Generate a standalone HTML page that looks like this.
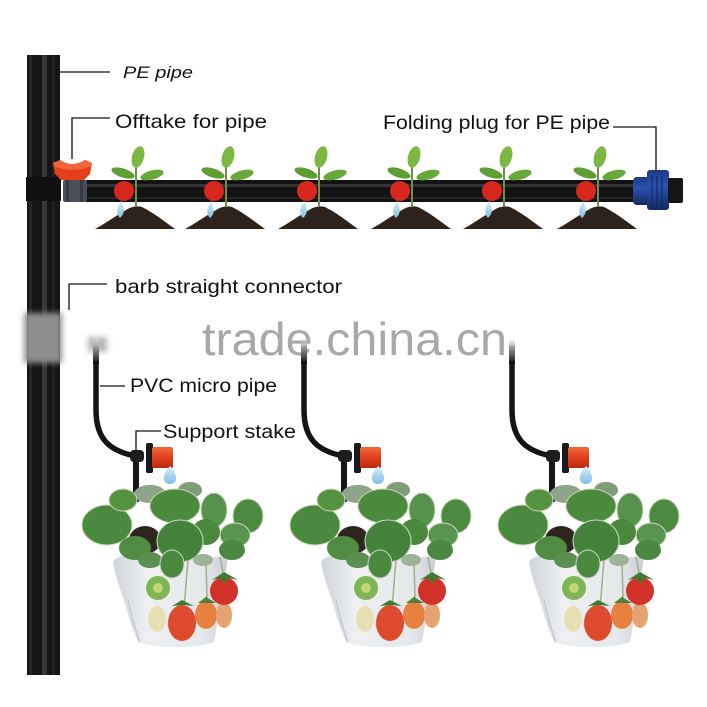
<!DOCTYPE html>
<html><head><meta charset="utf-8"><style>
html,body{margin:0;padding:0;background:#fff;}
svg{display:block;}
text{font-family:"Liberation Sans",sans-serif;}
</style></head><body>
<svg width="707" height="707" viewBox="0 0 707 707" xmlns="http://www.w3.org/2000/svg">
<defs>
<filter id="blur" x="-50%" y="-50%" width="200%" height="200%"><feGaussianBlur stdDeviation="3"/></filter>
<linearGradient id="fade" x1="0" y1="0" x2="0" y2="1"><stop offset="0" stop-color="#fff" stop-opacity="0"/><stop offset="0.4" stop-color="#999"/><stop offset="1" stop-color="#111"/></linearGradient>
<linearGradient id="redg" x1="0" y1="0" x2="0" y2="1"><stop offset="0" stop-color="#f06a3a"/><stop offset="0.5" stop-color="#e2401c"/><stop offset="1" stop-color="#b82a12"/></linearGradient>
<linearGradient id="blueg" x1="0" y1="0" x2="0" y2="1"><stop offset="0" stop-color="#1c3a86"/><stop offset="0.4" stop-color="#2a52b0"/><stop offset="1" stop-color="#132a63"/></linearGradient>
<linearGradient id="potg" x1="0" y1="0" x2="1" y2="0"><stop offset="0" stop-color="#cfd4d9"/><stop offset="0.3" stop-color="#eef0f2"/><stop offset="0.8" stop-color="#e4e7ea"/><stop offset="1" stop-color="#c9ced3"/></linearGradient>
<linearGradient id="dropg" x1="0" y1="0" x2="0" y2="1"><stop offset="0" stop-color="#d8eef9"/><stop offset="1" stop-color="#7fc0e4"/></linearGradient>
</defs>

<!-- vertical PE pipe -->
<rect x="27" y="55" width="33" height="620" fill="#151515"/>
<rect x="29" y="55" width="3" height="620" fill="#262626"/>
<rect x="42" y="55" width="5" height="620" fill="#383838"/>
<rect x="52" y="55" width="3" height="620" fill="#222"/>
<rect x="26" y="177" width="35" height="24" fill="#101010"/>
<rect x="24" y="313" width="38" height="50" fill="#8f8f8f" filter="url(#blur)"/>
<rect x="88" y="337" width="19" height="15" fill="#b5b5b5" filter="url(#blur)"/>

<!-- horizontal pipe -->
<rect x="86" y="180" width="550" height="22" fill="#131313"/>
<rect x="86" y="184" width="550" height="3" fill="#333"/>
<rect x="86" y="197" width="550" height="2" fill="#252525"/>
<!-- valve -->
<rect x="63" y="180" width="24" height="22" rx="2" fill="#4a4e57"/>
<rect x="66" y="180" width="3" height="22" fill="#363a42"/>
<rect x="80" y="180" width="3" height="22" fill="#363a42"/>
<path d="M53,163 L60,160 Q72,168 85,160 L92,163 L90,174 L84,180 L61,180 L55,174 Z" fill="#e5401c"/>
<path d="M53,163 L60,160 Q72,168 85,160 L92,163 L91,166 Q72,174 54,166 Z" fill="#f2653a"/>
<!-- blue plug -->
<rect x="633" y="177" width="18" height="28" rx="4" fill="url(#blueg)"/>
<rect x="647" y="170" width="22" height="40" rx="3" fill="url(#blueg)"/>
<line x1="652" y1="176" x2="652" y2="206" stroke="#10245a" stroke-width="1"/>
<line x1="657" y1="176" x2="657" y2="206" stroke="#10245a" stroke-width="1"/>
<line x1="662" y1="176" x2="662" y2="206" stroke="#10245a" stroke-width="1"/>
<rect x="668" y="178" width="15" height="25" rx="2" fill="#151515"/>

<!-- plants on the pipe -->
<g transform="translate(124,0)">
<path d="M-29,229 L-22,225 Q-8,216 2,210 Q10,205 18,207 Q28,212 40,221 L51,229 Z" fill="#2e231c"/>
<line x1="12" y1="207" x2="12" y2="152" stroke="#6f8f4a" stroke-width="2"/>
<ellipse cx="14" cy="157" rx="6" ry="11" transform="rotate(15 14 157)" fill="#7cb842"/>
<ellipse cx="-1" cy="173" rx="12" ry="4.5" transform="rotate(18 -1 173)" fill="#5e9e35"/>
<ellipse cx="28" cy="175" rx="12" ry="4.5" transform="rotate(-15 28 175)" fill="#68a83a"/>
<circle cx="0" cy="191" r="10" fill="#d8271c"/>
<path d="M-3,201 Q-10,212 -4,218 Q3,212 -3,201 Z" fill="url(#dropg)"/>
</g>
<g transform="translate(214,0)">
<path d="M-29,229 L-22,225 Q-8,216 2,210 Q10,205 18,207 Q28,212 40,221 L51,229 Z" fill="#2e231c"/>
<line x1="12" y1="207" x2="12" y2="152" stroke="#6f8f4a" stroke-width="2"/>
<ellipse cx="14" cy="157" rx="6" ry="11" transform="rotate(15 14 157)" fill="#7cb842"/>
<ellipse cx="-1" cy="173" rx="12" ry="4.5" transform="rotate(18 -1 173)" fill="#5e9e35"/>
<ellipse cx="28" cy="175" rx="12" ry="4.5" transform="rotate(-15 28 175)" fill="#68a83a"/>
<circle cx="0" cy="191" r="10" fill="#d8271c"/>
<path d="M-3,201 Q-10,212 -4,218 Q3,212 -3,201 Z" fill="url(#dropg)"/>
</g>
<g transform="translate(307,0)">
<path d="M-29,229 L-22,225 Q-8,216 2,210 Q10,205 18,207 Q28,212 40,221 L51,229 Z" fill="#2e231c"/>
<line x1="12" y1="207" x2="12" y2="152" stroke="#6f8f4a" stroke-width="2"/>
<ellipse cx="14" cy="157" rx="6" ry="11" transform="rotate(15 14 157)" fill="#7cb842"/>
<ellipse cx="-1" cy="173" rx="12" ry="4.5" transform="rotate(18 -1 173)" fill="#5e9e35"/>
<ellipse cx="28" cy="175" rx="12" ry="4.5" transform="rotate(-15 28 175)" fill="#68a83a"/>
<circle cx="0" cy="191" r="10" fill="#d8271c"/>
<path d="M-3,201 Q-10,212 -4,218 Q3,212 -3,201 Z" fill="url(#dropg)"/>
</g>
<g transform="translate(400,0)">
<path d="M-29,229 L-22,225 Q-8,216 2,210 Q10,205 18,207 Q28,212 40,221 L51,229 Z" fill="#2e231c"/>
<line x1="12" y1="207" x2="12" y2="152" stroke="#6f8f4a" stroke-width="2"/>
<ellipse cx="14" cy="157" rx="6" ry="11" transform="rotate(15 14 157)" fill="#7cb842"/>
<ellipse cx="-1" cy="173" rx="12" ry="4.5" transform="rotate(18 -1 173)" fill="#5e9e35"/>
<ellipse cx="28" cy="175" rx="12" ry="4.5" transform="rotate(-15 28 175)" fill="#68a83a"/>
<circle cx="0" cy="191" r="10" fill="#d8271c"/>
<path d="M-3,201 Q-10,212 -4,218 Q3,212 -3,201 Z" fill="url(#dropg)"/>
</g>
<g transform="translate(492,0)">
<path d="M-29,229 L-22,225 Q-8,216 2,210 Q10,205 18,207 Q28,212 40,221 L51,229 Z" fill="#2e231c"/>
<line x1="12" y1="207" x2="12" y2="152" stroke="#6f8f4a" stroke-width="2"/>
<ellipse cx="14" cy="157" rx="6" ry="11" transform="rotate(15 14 157)" fill="#7cb842"/>
<ellipse cx="-1" cy="173" rx="12" ry="4.5" transform="rotate(18 -1 173)" fill="#5e9e35"/>
<ellipse cx="28" cy="175" rx="12" ry="4.5" transform="rotate(-15 28 175)" fill="#68a83a"/>
<circle cx="0" cy="191" r="10" fill="#d8271c"/>
<path d="M-3,201 Q-10,212 -4,218 Q3,212 -3,201 Z" fill="url(#dropg)"/>
</g>
<g transform="translate(586,0)">
<path d="M-29,229 L-22,225 Q-8,216 2,210 Q10,205 18,207 Q28,212 40,221 L51,229 Z" fill="#2e231c"/>
<line x1="12" y1="207" x2="12" y2="152" stroke="#6f8f4a" stroke-width="2"/>
<ellipse cx="14" cy="157" rx="6" ry="11" transform="rotate(15 14 157)" fill="#7cb842"/>
<ellipse cx="-1" cy="173" rx="12" ry="4.5" transform="rotate(18 -1 173)" fill="#5e9e35"/>
<ellipse cx="28" cy="175" rx="12" ry="4.5" transform="rotate(-15 28 175)" fill="#68a83a"/>
<circle cx="0" cy="191" r="10" fill="#d8271c"/>
<path d="M-3,201 Q-10,212 -4,218 Q3,212 -3,201 Z" fill="url(#dropg)"/>
</g>

<!-- watermark -->
<text x="202" y="355" font-size="46" fill="#a8a8a8" textLength="305" lengthAdjust="spacingAndGlyphs">trade.china.cn</text>

<!-- hanging pots -->
<g transform="translate(0,0)">
<rect x="93" y="336" width="6" height="28" fill="url(#fade)"/>
<path d="M96,363 L96,410 C96,440 110,452 140,457" stroke="#141414" stroke-width="5.5" fill="none" stroke-linecap="round"/>
<rect x="133" y="450" width="6" height="52" fill="#161616"/>
<rect x="130" y="450" width="14" height="12" rx="4" fill="#1c1c1c"/>
<rect x="146" y="443" width="7" height="30" rx="2" fill="#1a1a1a"/>
<rect x="152" y="447" width="21" height="21" rx="2" fill="url(#redg)"/>
<path d="M170,466 Q161,476 165,482 Q170,486 175,482 Q179,476 170,466 Z" fill="url(#dropg)"/>
<path d="M113,562 Q116,556 128,555 L228,557 Q226,570 223,590 L214,642 Q200,647 176,647 Q150,647 138,642 Q130,625 124,600 Q116,580 113,562 Z" fill="url(#potg)"/>
<path d="M128,600 Q133,625 140,642" stroke="#c4c9ce" stroke-width="1.5" fill="none"/>
<ellipse cx="150" cy="494" rx="16" ry="9" fill="#8fa489"/>
<ellipse cx="190" cy="490" rx="12" ry="8" fill="#7f9c74"/>
<ellipse cx="145" cy="540" rx="16" ry="14" fill="#2f2620"/>
<ellipse cx="107" cy="525" rx="25" ry="20" fill="#4a8a3e" stroke="#c9d8bd" stroke-width="1"/>
<ellipse cx="123" cy="500" rx="14" ry="11" fill="#55923f" stroke="#c9d8bd" stroke-width="1"/>
<ellipse cx="135" cy="548" rx="16" ry="12" fill="#4f8c42"/>
<ellipse cx="175" cy="506" rx="25" ry="17" fill="#4b893c" stroke="#c9d8bd" stroke-width="1"/>
<ellipse cx="214" cy="510" rx="13" ry="17" fill="#57934a" stroke="#c9d8bd" stroke-width="1"/>
<ellipse cx="248" cy="516" rx="15" ry="17" fill="#4c8a40" stroke="#c9d8bd" stroke-width="1"/>
<ellipse cx="206" cy="532" rx="14" ry="13" fill="#4a883e"/>
<ellipse cx="180" cy="541" rx="23" ry="21" fill="#458239" stroke="#c9d8bd" stroke-width="1"/>
<ellipse cx="235" cy="535" rx="15" ry="12" fill="#5a954e" stroke="#c9d8bd" stroke-width="1"/>
<ellipse cx="232" cy="550" rx="13" ry="10" fill="#4a8842"/>
<ellipse cx="150" cy="560" rx="12" ry="8" fill="#5a8f50"/>
<ellipse cx="203" cy="560" rx="10" ry="6" fill="#9fb299"/>
<ellipse cx="172" cy="564" rx="12" ry="14" fill="#4a8840" stroke="#c9d8bd" stroke-width="1"/>
<path d="M188,560 L184,608 M206,560 L207,600 M220,557 L224,578" stroke="#9fb28a" stroke-width="1.5" fill="none"/>
<circle cx="158" cy="588" r="12" fill="#7fb555"/>
<circle cx="158" cy="588" r="5" fill="#c3d67a"/>
<ellipse cx="157" cy="619" rx="9" ry="13" fill="#e6e0b4"/>
<ellipse cx="182" cy="623" rx="14" ry="18" fill="#dd4a2e"/>
<ellipse cx="206" cy="615" rx="11" ry="14" fill="#e8813f"/>
<ellipse cx="224" cy="615" rx="8" ry="13" fill="#e6a474"/>
<ellipse cx="224" cy="591" rx="14" ry="14" fill="#d2322a"/>
<path d="M212,580 L224,572 L238,580 L228,578 L224,584 L220,578 Z" fill="#3f7a35"/>
<path d="M172,606 L182,600 L194,606 L184,605 Z" fill="#3f7a35"/>
<path d="M198,603 L206,597 L216,603 Z" fill="#4a8238"/>
</g>

<g transform="translate(208,0)">
<rect x="93" y="336" width="6" height="28" fill="url(#fade)"/>
<path d="M96,363 L96,410 C96,440 110,452 140,457" stroke="#141414" stroke-width="5.5" fill="none" stroke-linecap="round"/>
<rect x="133" y="450" width="6" height="52" fill="#161616"/>
<rect x="130" y="450" width="14" height="12" rx="4" fill="#1c1c1c"/>
<rect x="146" y="443" width="7" height="30" rx="2" fill="#1a1a1a"/>
<rect x="152" y="447" width="21" height="21" rx="2" fill="url(#redg)"/>
<path d="M170,466 Q161,476 165,482 Q170,486 175,482 Q179,476 170,466 Z" fill="url(#dropg)"/>
<path d="M113,562 Q116,556 128,555 L228,557 Q226,570 223,590 L214,642 Q200,647 176,647 Q150,647 138,642 Q130,625 124,600 Q116,580 113,562 Z" fill="url(#potg)"/>
<path d="M128,600 Q133,625 140,642" stroke="#c4c9ce" stroke-width="1.5" fill="none"/>
<ellipse cx="150" cy="494" rx="16" ry="9" fill="#8fa489"/>
<ellipse cx="190" cy="490" rx="12" ry="8" fill="#7f9c74"/>
<ellipse cx="145" cy="540" rx="16" ry="14" fill="#2f2620"/>
<ellipse cx="107" cy="525" rx="25" ry="20" fill="#4a8a3e" stroke="#c9d8bd" stroke-width="1"/>
<ellipse cx="123" cy="500" rx="14" ry="11" fill="#55923f" stroke="#c9d8bd" stroke-width="1"/>
<ellipse cx="135" cy="548" rx="16" ry="12" fill="#4f8c42"/>
<ellipse cx="175" cy="506" rx="25" ry="17" fill="#4b893c" stroke="#c9d8bd" stroke-width="1"/>
<ellipse cx="214" cy="510" rx="13" ry="17" fill="#57934a" stroke="#c9d8bd" stroke-width="1"/>
<ellipse cx="248" cy="516" rx="15" ry="17" fill="#4c8a40" stroke="#c9d8bd" stroke-width="1"/>
<ellipse cx="206" cy="532" rx="14" ry="13" fill="#4a883e"/>
<ellipse cx="180" cy="541" rx="23" ry="21" fill="#458239" stroke="#c9d8bd" stroke-width="1"/>
<ellipse cx="235" cy="535" rx="15" ry="12" fill="#5a954e" stroke="#c9d8bd" stroke-width="1"/>
<ellipse cx="232" cy="550" rx="13" ry="10" fill="#4a8842"/>
<ellipse cx="150" cy="560" rx="12" ry="8" fill="#5a8f50"/>
<ellipse cx="203" cy="560" rx="10" ry="6" fill="#9fb299"/>
<ellipse cx="172" cy="564" rx="12" ry="14" fill="#4a8840" stroke="#c9d8bd" stroke-width="1"/>
<path d="M188,560 L184,608 M206,560 L207,600 M220,557 L224,578" stroke="#9fb28a" stroke-width="1.5" fill="none"/>
<circle cx="158" cy="588" r="12" fill="#7fb555"/>
<circle cx="158" cy="588" r="5" fill="#c3d67a"/>
<ellipse cx="157" cy="619" rx="9" ry="13" fill="#e6e0b4"/>
<ellipse cx="182" cy="623" rx="14" ry="18" fill="#dd4a2e"/>
<ellipse cx="206" cy="615" rx="11" ry="14" fill="#e8813f"/>
<ellipse cx="224" cy="615" rx="8" ry="13" fill="#e6a474"/>
<ellipse cx="224" cy="591" rx="14" ry="14" fill="#d2322a"/>
<path d="M212,580 L224,572 L238,580 L228,578 L224,584 L220,578 Z" fill="#3f7a35"/>
<path d="M172,606 L182,600 L194,606 L184,605 Z" fill="#3f7a35"/>
<path d="M198,603 L206,597 L216,603 Z" fill="#4a8238"/>
</g>

<g transform="translate(416,0)">
<rect x="93" y="336" width="6" height="28" fill="url(#fade)"/>
<path d="M96,363 L96,410 C96,440 110,452 140,457" stroke="#141414" stroke-width="5.5" fill="none" stroke-linecap="round"/>
<rect x="133" y="450" width="6" height="52" fill="#161616"/>
<rect x="130" y="450" width="14" height="12" rx="4" fill="#1c1c1c"/>
<rect x="146" y="443" width="7" height="30" rx="2" fill="#1a1a1a"/>
<rect x="152" y="447" width="21" height="21" rx="2" fill="url(#redg)"/>
<path d="M170,466 Q161,476 165,482 Q170,486 175,482 Q179,476 170,466 Z" fill="url(#dropg)"/>
<path d="M113,562 Q116,556 128,555 L228,557 Q226,570 223,590 L214,642 Q200,647 176,647 Q150,647 138,642 Q130,625 124,600 Q116,580 113,562 Z" fill="url(#potg)"/>
<path d="M128,600 Q133,625 140,642" stroke="#c4c9ce" stroke-width="1.5" fill="none"/>
<ellipse cx="150" cy="494" rx="16" ry="9" fill="#8fa489"/>
<ellipse cx="190" cy="490" rx="12" ry="8" fill="#7f9c74"/>
<ellipse cx="145" cy="540" rx="16" ry="14" fill="#2f2620"/>
<ellipse cx="107" cy="525" rx="25" ry="20" fill="#4a8a3e" stroke="#c9d8bd" stroke-width="1"/>
<ellipse cx="123" cy="500" rx="14" ry="11" fill="#55923f" stroke="#c9d8bd" stroke-width="1"/>
<ellipse cx="135" cy="548" rx="16" ry="12" fill="#4f8c42"/>
<ellipse cx="175" cy="506" rx="25" ry="17" fill="#4b893c" stroke="#c9d8bd" stroke-width="1"/>
<ellipse cx="214" cy="510" rx="13" ry="17" fill="#57934a" stroke="#c9d8bd" stroke-width="1"/>
<ellipse cx="248" cy="516" rx="15" ry="17" fill="#4c8a40" stroke="#c9d8bd" stroke-width="1"/>
<ellipse cx="206" cy="532" rx="14" ry="13" fill="#4a883e"/>
<ellipse cx="180" cy="541" rx="23" ry="21" fill="#458239" stroke="#c9d8bd" stroke-width="1"/>
<ellipse cx="235" cy="535" rx="15" ry="12" fill="#5a954e" stroke="#c9d8bd" stroke-width="1"/>
<ellipse cx="232" cy="550" rx="13" ry="10" fill="#4a8842"/>
<ellipse cx="150" cy="560" rx="12" ry="8" fill="#5a8f50"/>
<ellipse cx="203" cy="560" rx="10" ry="6" fill="#9fb299"/>
<ellipse cx="172" cy="564" rx="12" ry="14" fill="#4a8840" stroke="#c9d8bd" stroke-width="1"/>
<path d="M188,560 L184,608 M206,560 L207,600 M220,557 L224,578" stroke="#9fb28a" stroke-width="1.5" fill="none"/>
<circle cx="158" cy="588" r="12" fill="#7fb555"/>
<circle cx="158" cy="588" r="5" fill="#c3d67a"/>
<ellipse cx="157" cy="619" rx="9" ry="13" fill="#e6e0b4"/>
<ellipse cx="182" cy="623" rx="14" ry="18" fill="#dd4a2e"/>
<ellipse cx="206" cy="615" rx="11" ry="14" fill="#e8813f"/>
<ellipse cx="224" cy="615" rx="8" ry="13" fill="#e6a474"/>
<ellipse cx="224" cy="591" rx="14" ry="14" fill="#d2322a"/>
<path d="M212,580 L224,572 L238,580 L228,578 L224,584 L220,578 Z" fill="#3f7a35"/>
<path d="M172,606 L182,600 L194,606 L184,605 Z" fill="#3f7a35"/>
<path d="M198,603 L206,597 L216,603 Z" fill="#4a8238"/>
</g>

<!-- leader lines -->
<g stroke="#111" stroke-width="1.3" fill="none">
<path d="M60,72 L110,72"/>
<path d="M72,159 L72,118 L110,118"/>
<path d="M613,127 L656,127 L656,170"/>
<path d="M69,310 L69,284 L107,284"/>
<path d="M100,386 L125,386"/>
<path d="M136,453 L136,431 L161,431"/>
</g>

<!-- labels -->
<g fill="#111">
<text x="123" y="78" font-size="17" font-style="italic" textLength="70" lengthAdjust="spacingAndGlyphs">PE pipe</text>
<text x="115" y="128" font-size="19.5" textLength="152" lengthAdjust="spacingAndGlyphs">Offtake for pipe</text>
<text x="383" y="129" font-size="19.5" textLength="227" lengthAdjust="spacingAndGlyphs">Folding plug for PE pipe</text>
<text x="115" y="293" font-size="19.5" textLength="227" lengthAdjust="spacingAndGlyphs">barb straight connector</text>
<text x="130" y="392" font-size="19.5" textLength="147" lengthAdjust="spacingAndGlyphs">PVC micro pipe</text>
<text x="163" y="438" font-size="19.5" textLength="133" lengthAdjust="spacingAndGlyphs">Support stake</text>
</g>
</svg>
</body></html>
